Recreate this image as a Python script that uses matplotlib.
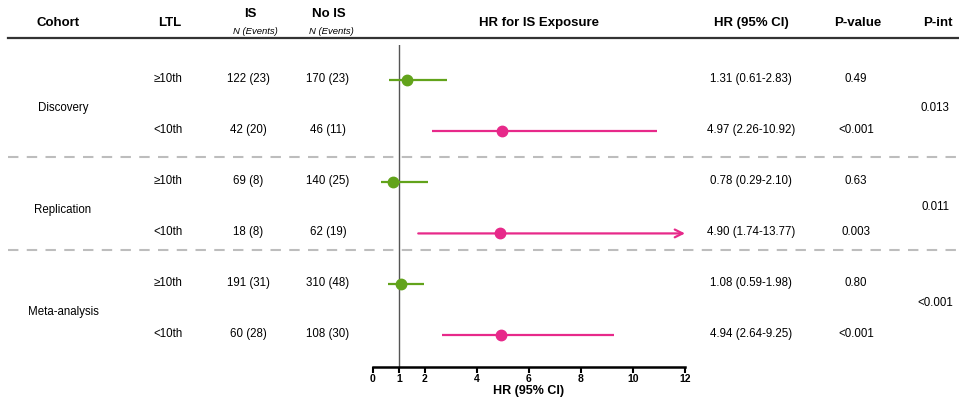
import numpy as np
import matplotlib
matplotlib.use('Agg')
import matplotlib.pyplot as plt
from matplotlib import transforms
from matplotlib.lines import Line2D

plt.rcParams['font.family'] = ['Liberation Sans', 'DejaVu Sans']

cohorts = ['Discovery', 'Replication', 'Meta-analysis']
ltl = ['\u226510th', '<10th'] * 3
is_n = ['122 (23)', '42 (20)', '69 (8)', '18 (8)', '191 (31)', '60 (28)']
nois_n = ['170 (23)', '46 (11)', '140 (25)', '62 (19)', '310 (48)', '108 (30)']
hr = [1.31, 4.97, 0.78, 4.90, 1.08, 4.94]
lo = [0.61, 2.26, 0.29, 1.74, 0.59, 2.64]
hi = [2.83, 10.92, 2.10, 13.77, 1.98, 9.25]
pval = ['0.49', '<0.001', '0.63', '0.003', '0.80', '<0.001']
pint = ['0.013', '0.011', '<0.001']
xticks = [0, 1, 2, 4, 6, 8, 10, 12]

green = '#62A31B'
pink = '#E7298A'
colors = [green, pink] * 3

W, H = 959, 405
fig = plt.figure(figsize=(W / 100, H / 100), dpi=100)
ax = fig.add_axes([373 / W, 1 - 367 / H, 312 / W, (367 - 45) / H])
xmax = 12
ax.set_xlim(0, xmax)
ax.set_ylim(5.62, -0.696)

rows = np.arange(len(hr))
for i in rows:
    c = colors[i]
    if hi[i] > xmax:
        ax.annotate('', xy=(xmax, i), xytext=(lo[i], i),
                    arrowprops=dict(arrowstyle='->', color=c, lw=1.6,
                                    mutation_scale=14, shrinkA=0, shrinkB=0))
    else:
        ax.plot([lo[i], hi[i]], [i, i], color=c, lw=1.6, solid_capstyle='butt')
    ax.plot(hr[i], i, 'o', color=c, markersize=7.5, zorder=3)

ax.axvline(1, color='#555555', lw=1, zorder=1)
for s in ['top', 'right', 'left']:
    ax.spines[s].set_visible(False)
ax.spines['bottom'].set_linewidth(1.8)
ax.set_yticks([])
ax.set_xticks(xticks)
ax.tick_params(axis='x', length=4, width=1.5, pad=1, labelsize=7.5)
for t in ax.get_xticklabels():
    t.set_fontweight('bold')
ax.set_xlabel('HR (95% CI)', fontsize=9, fontweight='bold', labelpad=1)

# table columns
tr = transforms.blended_transform_factory(fig.transFigure, ax.transData)
body = dict(fontsize=8.3, ha='center', va='center', transform=tr)
for i in rows:
    fig.text(168 / W, i - 0.03, ltl[i], **body)
    fig.text(248 / W, i - 0.03, is_n[i], **body)
    fig.text(328 / W, i - 0.03, nois_n[i], **body)
    fig.text(751 / W, i - 0.03, '%.2f (%.2f-%.2f)' % (hr[i], lo[i], hi[i]), **body)
    fig.text(856 / W, i - 0.03, pval[i], **body)

cohort_y = [0.54, 2.54, 4.54]
pint_y = [0.54, 2.48, 4.36]
for k in range(3):
    fig.text(63 / W, cohort_y[k], cohorts[k], **body)
    fig.text(935 / W, pint_y[k], pint[k], **body)

# separators
for y in [1.5, 3.32]:
    fig.add_artist(Line2D([8 / W, 1], [y, y], transform=tr, color='#BDBDBD',
                          lw=1.5, dashes=(5, 4)))

# header
hy = 1 - 23 / H
head = dict(fontsize=9.5, fontweight='bold', ha='center', va='center')
fig.text(58 / W, hy, 'Cohort', **head)
fig.text(170 / W, hy, 'LTL', **head)
fig.text(250 / W, 1 - 14 / H, 'IS', **head)
fig.text(329 / W, 1 - 14 / H, 'No IS', **head)
fig.text(255 / W, 1 - 31 / H, 'N (Events)', fontsize=6.8, style='italic', ha='center', va='center')
fig.text(331 / W, 1 - 31 / H, 'N (Events)', fontsize=6.8, style='italic', ha='center', va='center')
fig.text(539 / W, hy, 'HR for IS Exposure', **head)
fig.text(751 / W, hy, 'HR (95% CI)', **head)
fig.text(858 / W, hy, 'P-value', **head)
fig.text(938 / W, hy, 'P-int', **head)
fig.add_artist(Line2D([8 / W, 1], [1 - 38 / H] * 2, transform=fig.transFigure,
                      color='#333333', lw=1.6))

fig.savefig('out.png', dpi=100)
